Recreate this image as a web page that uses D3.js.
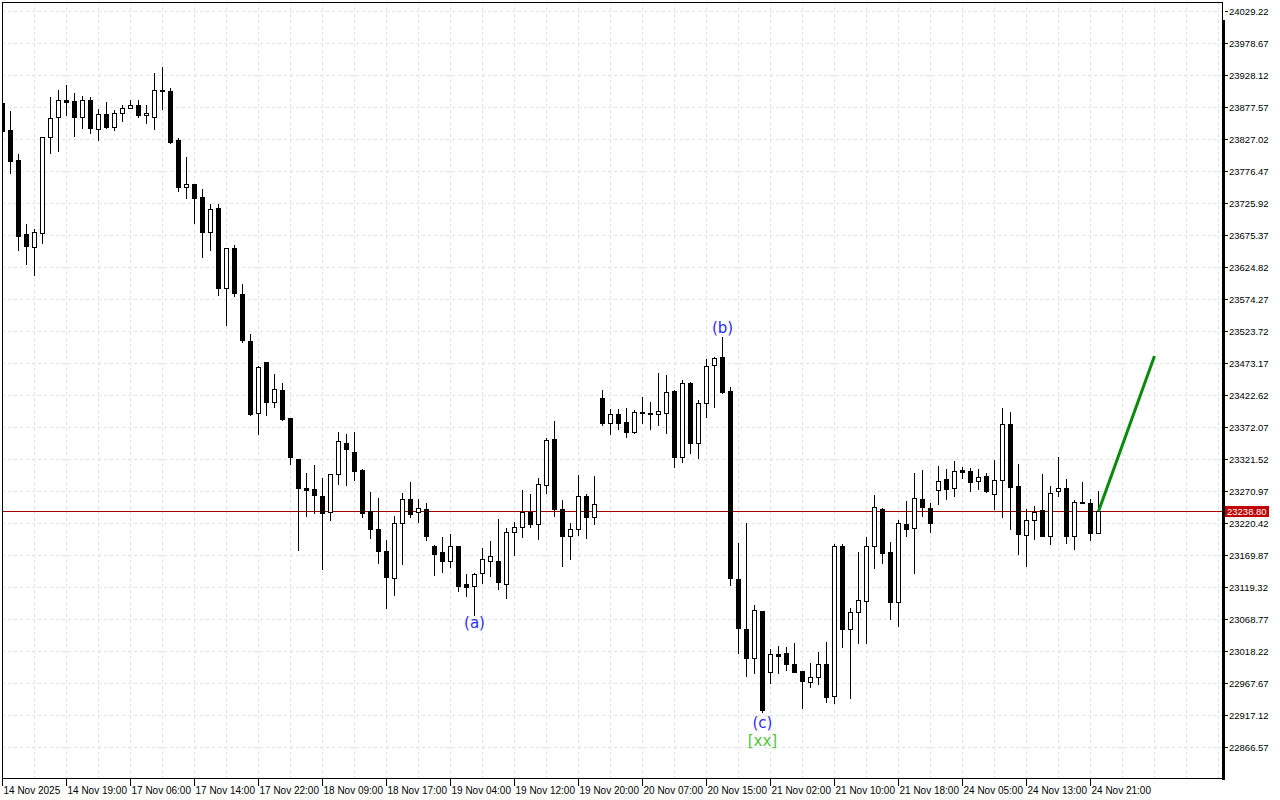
<!DOCTYPE html>
<html>
<head>
<meta charset="utf-8">
<script src="https://cdn.jsdelivr.net/npm/d3@7"></script>
<style>
  html, body { margin: 0; padding: 0; background: #fff; }
  svg { display: block; }
  text { font-family: "Liberation Sans", Arial, sans-serif; }
</style>
</head>
<body>
<script>
// Hourly candles (bar index 0 = 14 Nov 2025).
const opens = [
  23883.4, 23841.2, 23793.8, 23677.0, 23656.9, 23679.1, 23830.5, 23861.1, 23888.1, 23887.0,
  23862.2, 23888.1, 23842.3, 23866.5, 23846.4, 23867.6, 23876.4, 23880.7, 23864.4, 23862.2,
  23903.9, 23902.8, 23825.4, 23750.6, 23755.9, 23734.9, 23679.7, 23717.6, 23591.2, 23654.4,
  23582.2, 23507.9, 23393.7, 23474.4, 23412.0, 23430.5, 23385.8, 23321.0, 23276.5, 23273.7,
  23263.1, 23237.4, 23297.4, 23346.3, 23332.1, 23304.2, 23239.4, 23210.9, 23176.2, 23134.0,
  23220.9, 23258.3, 23237.4, 23242.6, 23184.6, 23174.1, 23160.9, 23184.1, 23124.1, 23121.4,
  23141.0, 23160.9, 23160.4, 23123.6, 23205.7, 23214.6, 23238.3, 23218.4, 23280.0, 23353.1,
  23242.1, 23199.9, 23210.5, 23263.1, 23229.4, 23417.4, 23377.9, 23392.2, 23379.5, 23364.7,
  23396.3, 23394.3, 23392.2, 23393.8, 23429.0, 23325.2, 23442.1, 23347.3, 23409.5, 23469.6,
  23482.2, 23429.0, 23131.9, 23052.5, 23007.6, 23081.4, 22984.6, 23013.5, 23015.5, 22997.7,
  22987.1, 22969.7, 22976.6, 22997.7, 22947.1, 23184.1, 23052.5, 23080.3, 23097.7, 23184.6,
  23242.6, 23174.1, 23095.1, 23218.4, 23212.1, 23258.3, 23243.7, 23272.5, 23289.4, 23275.2,
  23304.2, 23302.6, 23287.2, 23295.1, 23265.8, 23287.9, 23376.3, 23278.4, 23201.0, 23224.7,
  23241.0, 23199.4, 23270.5, 23275.2, 23200.4, 23251.6, 23251.6, 23205.1
];
const highs = [
  23891.0, 23871.7, 23803.1, 23692.8, 23684.9, 23830.1, 23893.8, 23904.4, 23912.3, 23899.2,
  23894.9, 23893.8, 23874.4, 23885.4, 23872.8, 23880.7, 23888.6, 23888.6, 23880.7, 23931.8,
  23941.2, 23907.1, 23828.1, 23799.1, 23756.3, 23747.5, 23724.4, 23724.4, 23654.4, 23659.6,
  23598.0, 23519.0, 23468.6, 23474.4, 23455.8, 23441.1, 23385.8, 23321.0, 23299.5, 23312.0,
  23291.0, 23297.9, 23363.8, 23361.0, 23363.8, 23305.2, 23269.9, 23259.4, 23193.5, 23231.5,
  23267.4, 23285.7, 23258.3, 23251.6, 23185.7, 23198.8, 23203.0, 23184.1, 23139.9, 23141.9,
  23180.4, 23192.0, 23226.7, 23213.0, 23221.5, 23272.5, 23266.2, 23291.0, 23354.2, 23382.0,
  23256.8, 23220.9, 23296.3, 23265.8, 23294.7, 23430.5, 23400.5, 23400.5, 23401.6, 23399.0,
  23419.0, 23411.2, 23456.9, 23454.2, 23430.5, 23446.3, 23443.6, 23414.7, 23479.0, 23482.2,
  23514.7, 23434.8, 23188.3, 23220.9, 23090.9, 23081.4, 23021.0, 23026.2, 23025.1, 23031.3,
  22987.1, 22998.8, 23017.1, 23032.4, 23186.8, 23186.8, 23085.7, 23174.6, 23198.8, 23264.7,
  23243.7, 23189.9, 23225.2, 23255.2, 23299.9, 23304.2, 23251.6, 23310.5, 23305.7, 23318.4,
  23309.4, 23306.8, 23305.2, 23298.9, 23319.9, 23401.6, 23395.3, 23313.6, 23242.1, 23247.8,
  23297.4, 23278.9, 23324.2, 23289.4, 23256.8, 23285.2, 23257.9, 23271.0
];
const lows = [
  23838.0, 23773.8, 23651.7, 23629.6, 23612.2, 23662.3, 23805.2, 23808.3, 23864.9, 23831.7,
  23844.4, 23836.8, 23825.4, 23843.9, 23841.2, 23855.4, 23875.5, 23861.1, 23852.7, 23842.8,
  23874.9, 23821.2, 23744.3, 23733.4, 23694.8, 23641.1, 23651.7, 23580.6, 23533.2, 23579.0,
  23506.8, 23391.0, 23361.0, 23391.0, 23404.1, 23383.1, 23313.6, 23177.8, 23232.0, 23236.7,
  23147.8, 23225.2, 23282.0, 23280.5, 23288.3, 23229.4, 23197.3, 23156.8, 23086.6, 23106.7,
  23155.7, 23230.4, 23222.6, 23193.6, 23138.3, 23143.5, 23151.4, 23113.5, 23105.1, 23075.1,
  23125.2, 23137.2, 23115.7, 23102.4, 23169.8, 23198.8, 23214.6, 23194.7, 23268.3, 23232.0,
  23153.0, 23163.1, 23201.5, 23197.3, 23218.4, 23375.2, 23361.0, 23368.9, 23356.7, 23362.2,
  23378.9, 23368.9, 23375.2, 23361.9, 23309.4, 23316.3, 23331.5, 23322.6, 23388.3, 23404.1,
  23425.3, 23122.5, 23015.5, 22979.2, 22983.0, 22922.3, 22967.2, 22983.0, 22988.2, 22985.5,
  22928.6, 22960.8, 22966.1, 22938.1, 22936.5, 23025.0, 22944.4, 23031.3, 23031.3, 23149.8,
  23157.7, 23068.8, 23058.2, 23200.4, 23140.9, 23232.0, 23206.7, 23250.0, 23257.9, 23263.5,
  23292.0, 23271.4, 23274.1, 23268.9, 23242.1, 23230.4, 23210.5, 23171.0, 23153.0, 23195.6,
  23200.4, 23186.8, 23263.5, 23189.3, 23178.9, 23251.6, 23193.6, 23205.1
];
const closes = [
  23840.1, 23792.7, 23674.3, 23658.5, 23679.7, 23829.6, 23859.5, 23888.1, 23885.9, 23862.2,
  23888.1, 23844.8, 23866.5, 23845.5, 23867.6, 23875.5, 23880.7, 23864.9, 23868.1, 23903.9,
  23903.3, 23822.8, 23750.6, 23755.9, 23734.6, 23680.6, 23716.0, 23591.2, 23654.4, 23583.3,
  23509.5, 23392.6, 23466.5, 23412.0, 23431.6, 23385.2, 23324.2, 23275.9, 23272.2, 23264.7,
  23236.7, 23297.9, 23350.0, 23336.8, 23303.1, 23236.7, 23211.4, 23176.7, 23135.6, 23220.0,
  23257.9, 23235.1, 23243.7, 23199.9, 23171.0, 23160.9, 23184.1, 23121.4, 23119.8, 23139.9,
  23163.1, 23168.3, 23127.7, 23205.7, 23214.6, 23237.4, 23218.4, 23281.5, 23351.5, 23242.1,
  23200.4, 23210.5, 23263.1, 23229.4, 23250.4, 23378.9, 23392.2, 23378.9, 23364.7, 23395.4,
  23393.8, 23393.2, 23397.4, 23426.9, 23325.2, 23441.1, 23347.3, 23409.5, 23468.6, 23480.6,
  23427.8, 23133.0, 23054.0, 23006.6, 23083.0, 22925.0, 23013.5, 23010.8, 22997.2, 22985.5,
  22971.3, 22976.6, 22997.7, 22946.3, 23184.1, 23052.5, 23080.6, 23098.0, 23184.1, 23245.2,
  23173.5, 23096.1, 23220.0, 23210.5, 23259.4, 23245.2, 23220.0, 23287.2, 23273.7, 23302.6,
  23301.5, 23285.7, 23293.6, 23271.4, 23287.9, 23376.3, 23277.8, 23202.6, 23224.7, 23238.3,
  23200.4, 23267.4, 23275.2, 23200.4, 23253.1, 23253.1, 23205.1, 23238.8
];

const priceTicks = [
  24029.22, 23978.67, 23928.12, 23877.57, 23827.02, 23776.47, 23725.92, 23675.37,
  23624.82, 23574.27, 23523.72, 23473.17, 23422.62, 23372.07, 23321.52, 23270.97,
  23220.42, 23169.87, 23119.32, 23068.77, 23018.22, 22967.67, 22917.12, 22866.57
];
const timeLabels = [
  "14 Nov 2025", "14 Nov 19:00", "17 Nov 06:00", "17 Nov 14:00", "17 Nov 22:00",
  "18 Nov 09:00", "18 Nov 17:00", "19 Nov 04:00", "19 Nov 12:00", "19 Nov 20:00",
  "20 Nov 07:00", "20 Nov 15:00", "21 Nov 02:00", "21 Nov 10:00", "21 Nov 18:00",
  "24 Nov 05:00", "24 Nov 13:00", "24 Nov 21:00"
];
const timeLabelBars = [0, 8, 16, 24, 32, 40, 48, 56, 64, 72, 80, 88, 96, 104, 112, 120, 128, 136];

const lastPrice = 23238.80;
// forecast line: from last close to target
const forecastBars = [137, 144];
const forecastPrices = [23238.8, 23484.2];

// wave labels
const waveText = ["(a)", "(b)", "(c)", "[xx]"];
const waveBar = [59, 90, 95, 95];
const waveColor = ["#2b2bff", "#2b2bff", "#2b2bff", "#52c43c"];
const waveDy = [13, -4, 16, 34]; // baseline offset from the low/high

const W = 1280, H = 800;
const plot = { left: 2, top: 2, right: 1222, bottom: 779 };

const x = d3.scaleLinear().domain([0, 152]).range([2.5, 1218.5]);
const y = d3.scaleLinear().domain([22817.6, 24046.6]).range([778, 0]);
const snap = (v) => Math.round(v) + 0.5;

const svg = d3.select("body").append("svg").attr("width", W).attr("height", H);

svg.append("defs").append("clipPath").attr("id", "plotclip")
  .append("rect")
  .attr("x", plot.left).attr("y", plot.top)
  .attr("width", plot.right - plot.left).attr("height", plot.bottom - plot.top);

const grid = svg.append("g").attr("stroke", "#e3e3e3").attr("stroke-dasharray", "3,3")
  .attr("shape-rendering", "crispEdges");

// vertical grid every 4 bars
grid.selectAll("line.v")
  .data(d3.range(0, 153, 4))
  .join("line")
  .attr("class", "v")
  .attr("x1", (d) => x(d)).attr("x2", (d) => x(d))
  .attr("y1", plot.top).attr("y2", plot.bottom);

grid.selectAll("line.h")
  .data(priceTicks)
  .join("line")
  .attr("class", "h")
  .attr("x1", plot.left).attr("x2", plot.right)
  .attr("y1", (d) => snap(y(d))).attr("y2", (d) => snap(y(d)));

// current price line
svg.append("line")
  .attr("x1", plot.left).attr("x2", plot.right)
  .attr("y1", snap(y(lastPrice))).attr("y2", snap(y(lastPrice)))
  .attr("stroke", "#a00000").attr("stroke-width", 1)
  .attr("shape-rendering", "crispEdges");

const candles = opens.map((o, i) => ({ i, o, h: highs[i], l: lows[i], c: closes[i] }));

const cg = svg.append("g").attr("clip-path", "url(#plotclip)").attr("shape-rendering", "crispEdges");

cg.selectAll("line.wick")
  .data(candles)
  .join("line")
  .attr("class", "wick")
  .attr("x1", (d) => x(d.i)).attr("x2", (d) => x(d.i))
  .attr("y1", (d) => Math.round(y(d.h))).attr("y2", (d) => Math.round(y(d.l)) + 1)
  .attr("stroke", "#000");

cg.selectAll("rect.body")
  .data(candles)
  .join("rect")
  .attr("class", "body")
  .attr("x", (d) => x(d.i) - 2)
  .attr("width", 4)
  .attr("y", (d) => Math.round(y(Math.max(d.o, d.c))) + 0.5)
  .attr("height", (d) => Math.max(1, Math.round(y(Math.min(d.o, d.c))) - Math.round(y(Math.max(d.o, d.c)))))
  .attr("fill", (d) => (d.c >= d.o ? "#fff" : "#000"))
  .attr("stroke", "#000");

// forecast line
svg.append("line")
  .attr("x1", x(forecastBars[0])).attr("y1", y(forecastPrices[0]))
  .attr("x2", x(forecastBars[1])).attr("y2", y(forecastPrices[1]))
  .attr("stroke", "#0a8a0a").attr("stroke-width", 3);

// wave labels
svg.selectAll("text.wave")
  .data(waveText)
  .join("text")
  .attr("class", "wave")
  .attr("x", (d, i) => x(waveBar[i]))
  .attr("y", (d, i) => {
    const b = waveBar[i];
    const base = waveDy[i] < 0 ? y(highs[b]) : y(lows[b]);
    return base + waveDy[i];
  })
  .attr("text-anchor", "middle")
  .style("font-family", "'DejaVu Sans', sans-serif")
  .style("font-size", "15px")
  .attr("fill", (d, i) => waveColor[i])
  .text((d) => d);

// frame
svg.append("rect")
  .attr("x", plot.left + 0.5).attr("y", plot.top + 0.5)
  .attr("width", plot.right - plot.left).attr("height", plot.bottom - plot.top - 1)
  .attr("fill", "none").attr("stroke", "#000").attr("shape-rendering", "crispEdges");
svg.append("rect")
  .attr("x", plot.right).attr("y", 20).attr("width", 3).attr("height", plot.bottom - 19)
  .attr("fill", "#000");

// right price axis
const ya = svg.append("g");
ya.selectAll("line")
  .data(priceTicks)
  .join("line")
  .attr("x1", plot.right + 3).attr("x2", plot.right + 6)
  .attr("y1", (d) => snap(y(d))).attr("y2", (d) => snap(y(d)))
  .attr("stroke", "#000").attr("shape-rendering", "crispEdges");
ya.selectAll("text")
  .data(priceTicks)
  .join("text")
  .attr("x", plot.right + 7)
  .attr("y", (d) => Math.round(y(d)) + 4)
  .style("font-size", "9.5px")
  .attr("fill", "#000")
  .text((d) => d.toFixed(2));

// current price tag
const ly = Math.round(y(lastPrice));
svg.append("rect")
  .attr("x", 1225).attr("y", ly - 5).attr("width", 44).attr("height", 11)
  .attr("fill", "#c00000");
svg.append("text")
  .attr("x", 1227).attr("y", ly + 4)
  .style("font-size", "9.5px")
  .attr("fill", "#fff")
  .text(lastPrice.toFixed(2));

// bottom time axis
const xa = svg.append("g");
xa.selectAll("line")
  .data(timeLabelBars)
  .join("line")
  .attr("x1", (d) => x(d)).attr("x2", (d) => x(d))
  .attr("y1", plot.bottom).attr("y2", plot.bottom + 7)
  .attr("stroke", "#000").attr("shape-rendering", "crispEdges");
xa.selectAll("text")
  .data(timeLabels)
  .join("text")
  .attr("x", (d, i) => x(timeLabelBars[i]) + 1)
  .attr("y", 794)
  .style("font-size", "10px")
  .attr("fill", "#000")
  .text((d) => d);
</script>
</body>
</html>
